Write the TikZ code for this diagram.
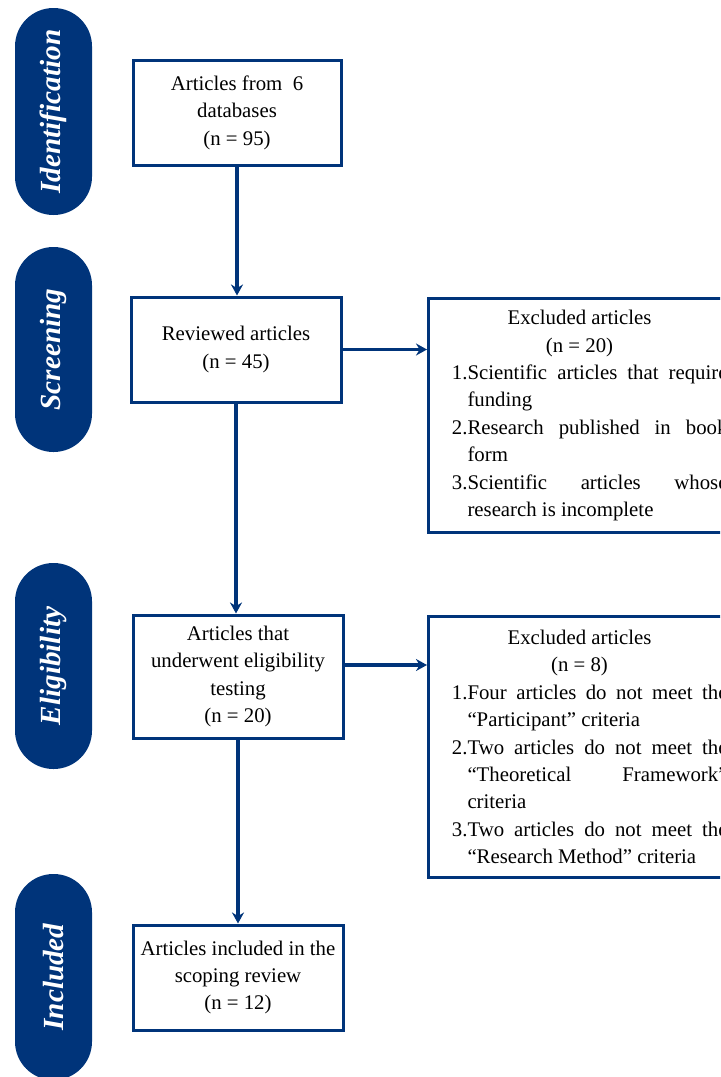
\documentclass[tikz,border=0pt]{standalone}
\usepackage{fontspec}
\setmainfont{Liberation Serif}
\usetikzlibrary{arrows.meta,positioning}
\definecolor{stagefill}{RGB}{0,52,122}
\definecolor{blockedge}{RGB}{0,52,122}

\begin{document}
\begin{tikzpicture}[
  x=0.5pt, y=-0.5pt,
  font=\fontsize{10.4}{13.7}\selectfont,
  >={Stealth[length=5.5pt,width=6pt]},
  stage/.style={
      rectangle, rounded corners=19.2pt,
      fill=stagefill, text=white, rotate=90,
      minimum height=38.5pt, inner sep=0pt,
      font=\fontsize{14.6}{16}\selectfont\bfseries\itshape
  },
  block/.style={
      rectangle, draw=blockedge, line width=1.5pt,
      fill=white, align=center,
      minimum width=105pt, inner sep=0pt
  },
  exblock/.style={
      rectangle, draw=blockedge, line width=1.5pt,
      fill=white, anchor=north west, align=justify,
      text width=138pt, inner xsep=11.5pt, inner ysep=0pt
  },
  arr/.style={->, draw=blockedge, line width=1.6pt}
]
\useasboundingbox (0,0) rectangle (720,1077);
\clip (0,0) rectangle (720,1077);

% =========================================================
% Stage tags down the left edge
% =========================================================
\node[stage, minimum width=103.5pt] (lanId)  at (53.5,111.5) {Identification};
\node[stage, minimum width=102.5pt] (lanScr) at (53.5,349.5) {Screening};
\node[stage, minimum width=103pt]   (lanElg) at (53.5,666)   {Eligibility};
\node[stage, minimum width=103pt]   (lanInc) at (53.5,977)   {Included};

% =========================================================
% Main column
% =========================================================
\node[block, minimum width=104pt, minimum height=52.5pt] (idn) at (237,112.5)
     {Articles from \ 6\\databases\\(n = 95)};
\node[block, minimum height=52.5pt] (rev)  at (236,349.5) {Reviewed articles\\(n = 45)};
\node[block, minimum height=61.5pt] (elig) at (238,676.5)
     {Articles that\\underwent eligibility\\testing\\(n = 20)};
\node[block, minimum height=52.5pt] (incl) at (238,977.5)
     {Articles included in the\\scoping review\\(n = 12)};

% =========================================================
% Exclusion boxes (cut by the right edge)
% =========================================================
\node[exblock, minimum height=117pt] (exA) at (427,297) {%
  {\centering\hspace*{-10pt}Excluded articles\\\hspace*{-10pt}(n = 20)\par}
  \leftskip=8pt \rightskip=0pt \parfillskip=0pt plus 1fil
  \tolerance=10000 \hbadness=10000
  \noindent\llap{1.}Scientific articles that require\linebreak funding\par
  \noindent\llap{2.}Research published in book\linebreak form\par
  \noindent\llap{3.}Scientific articles whose\linebreak research is incomplete\par};
\node[exblock, minimum height=130.5pt] (exB) at (427,615) {%
  {\centering\hspace*{-10pt}Excluded articles\\\hspace*{-10pt}(n = 8)\par}
  \leftskip=8pt \rightskip=0pt \parfillskip=0pt plus 1fil
  \tolerance=10000 \hbadness=10000
  \noindent\llap{1.}Four articles do not meet the\linebreak “Participant” criteria\par
  \noindent\llap{2.}Two articles do not meet the\linebreak “Theoretical Framework”\linebreak criteria\par
  \noindent\llap{3.}Two articles do not meet the\linebreak “Research Method” criteria\par};

% Arrows
\draw[arr] (idn.south)  -- (idn.south |- rev.north);
\draw[arr] (rev.east)   -- (rev.east -| exA.west);
\draw[arr] (rev.south)  -- (rev.south |- elig.north);
\draw[arr] ([yshift=5.75pt]elig.east) -- ([yshift=5.75pt]elig.east -| exB.west);
\draw[arr] (elig.south) -- (elig.south |- incl.north);

\end{tikzpicture}
\end{document}
